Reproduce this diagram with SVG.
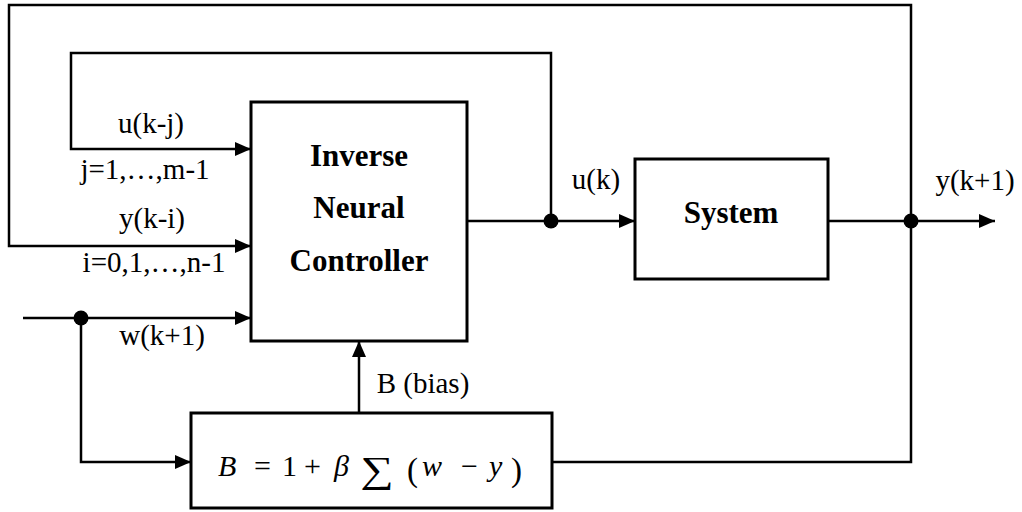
<svg xmlns="http://www.w3.org/2000/svg" width="1022" height="512" viewBox="0 0 1022 512">
<style>
.ln{fill:none;stroke:#000;stroke-width:2.5}
.box{fill:#fff;stroke:#000;stroke-width:3}
.t{font-family:"Liberation Serif","Times New Roman",serif;font-size:29px;fill:#000}
.b{font-family:"Liberation Serif","Times New Roman",serif;font-size:31px;font-weight:bold;fill:#000}
.f{font-family:"Liberation Serif","Times New Roman",serif;font-size:30px;fill:#000}
.i{font-style:italic}
</style>
<defs>
<marker id="arr" markerUnits="userSpaceOnUse" markerWidth="16" markerHeight="14" refX="16" refY="7" orient="auto">
<path d="M0,0 L16,7 L0,14 z" fill="#000"/>
</marker>
</defs>
<rect width="1022" height="512" fill="#fff"/>
<g id="connectors">
<path class="ln" d="M911,221 V5 H9 V246 H251" marker-end="url(#arr)"/>
<path class="ln" d="M551,221 V53 H71 V149 H251" marker-end="url(#arr)"/>
<path class="ln" d="M467,221 H635" marker-end="url(#arr)"/>
<path class="ln" d="M828,221 H995" marker-end="url(#arr)"/>
<path class="ln" d="M911,221 V462 H552"/>
<path class="ln" d="M23,318 H251" marker-end="url(#arr)"/>
<path class="ln" d="M81,318 V462 H191" marker-end="url(#arr)"/>
<path class="ln" d="M359,413 V341" marker-end="url(#arr)"/>
<circle cx="551" cy="221" r="7.5"/>
<circle cx="911" cy="221" r="7.5"/>
<circle cx="81" cy="318" r="7.5"/>
<text class="t" x="151" y="133" text-anchor="middle">u(k-j)</text>
<text class="t" x="145" y="179" text-anchor="middle">j=1,…,m-1</text>
<text class="t" x="152" y="228" text-anchor="middle">y(k-i)</text>
<text class="t" x="154" y="272" text-anchor="middle">i=0,1,…,n-1</text>
<text class="t" x="596" y="189" text-anchor="middle">u(k)</text>
<text class="t" x="975" y="190" text-anchor="middle">y(k+1)</text>
<text class="t" x="162" y="345" text-anchor="middle">w(k+1)</text>
<text class="t" x="423" y="393" text-anchor="middle">B (bias)</text>
</g>
<g id="controller">
<rect class="box" x="251" y="102" width="216" height="239"/>
<text class="b" x="359" y="166" text-anchor="middle">Inverse</text>
<text class="b" x="359" y="218" text-anchor="middle">Neural</text>
<text class="b" x="359" y="271" text-anchor="middle">Controller</text>
</g>
<g id="system">
<rect class="box" x="635" y="159" width="193" height="120"/>
<text class="b" x="731" y="223" text-anchor="middle">System</text>
</g>
<g id="bias">
<rect class="box" x="191" y="413" width="361" height="95"/>
<text class="f i" x="218" y="476">B</text>
<text class="f" x="254" y="476">=</text>
<text class="f" x="282" y="476">1</text>
<text class="f" x="304" y="476">+</text>
<text class="f i" x="334" y="476">β</text>
<text class="f" transform="translate(360,482) scale(1.02,0.8)" style="font-size:46px">∑</text>
<text class="f" x="407" y="481" style="font-size:33px">(</text>
<text class="f i" x="422" y="476">w</text>
<text class="f" x="461" y="476">−</text>
<text class="f i" x="489" y="476">y</text>
<text class="f" x="511" y="481" style="font-size:33px">)</text>
</g>
</svg>
